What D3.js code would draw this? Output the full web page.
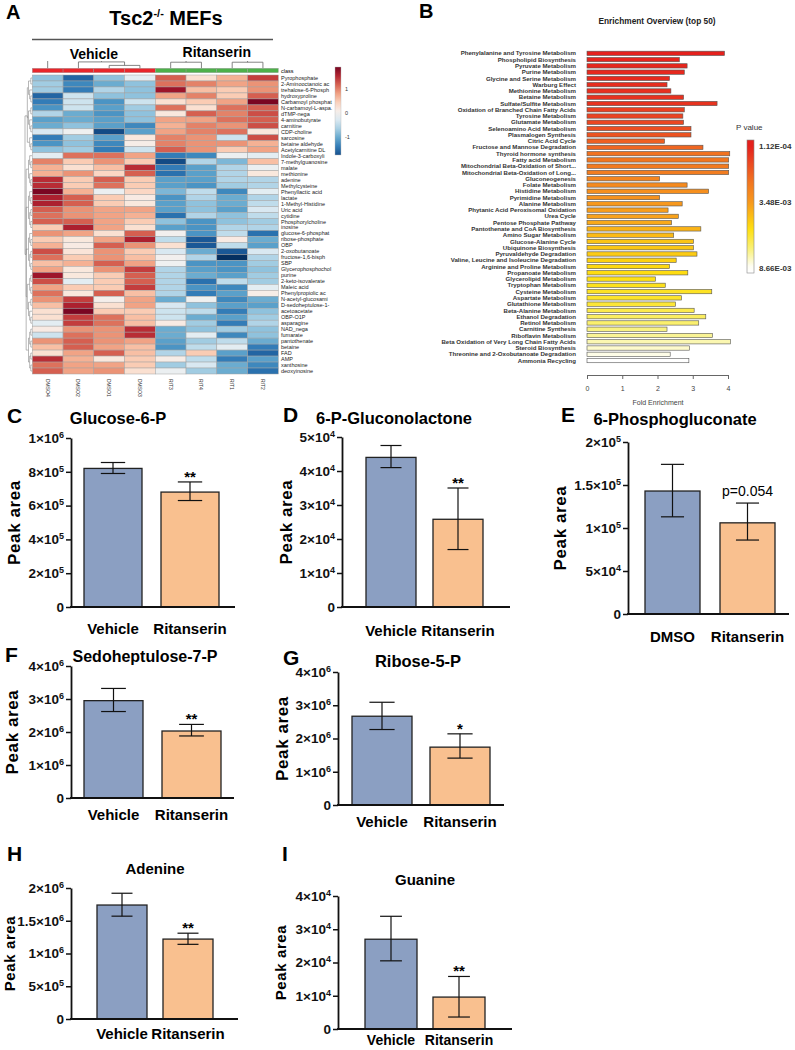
<!DOCTYPE html>
<html>
<head>
<meta charset="utf-8">
<script src="https://cdn.jsdelivr.net/npm/d3@7"></script>
<style>
  body { margin: 0; background: #fff; }
  svg { display: block; font-family: "Liberation Sans", Arial, sans-serif; }
</style>
</head>
<body>
<svg id="fig" width="795" height="1050"></svg>
<script>
// ---------- panel A data ----------
const samples = ["DMSO4", "DMSO2", "DMSO1", "DMSO3", "RIT3", "RIT4", "RIT1", "RIT2"];
const sampleGroup = ["Vehicle", "Vehicle", "Vehicle", "Vehicle", "Ritanserin", "Ritanserin", "Ritanserin", "Ritanserin"];
const metabolites = ["Pyrophosphate", "2-Aminooctanoic ac", "trehalose-6-Phosph", "hydroxyproline", "Carbamoyl phosphat",
  "N-carbamoyl-L-aspa.", "dTMP-nega", "4-aminobutyrate", "carnitine", "CDP-choline", "sarcosine", "betaine aldehyde",
  "Acetylcarnitine DL", "Indole-3-carboxyli", "7-methylguanosine", "malate", "methionine", "adenine", "Methylcysteine",
  "Phenyllactic acid", "lactate", "1-Methyl-Histidine", "Uric acid", "cytidine", "Phosphorylcholine", "inosine",
  "glucose-6-phosphat", "ribose-phosphate", "OBP", "2-oxobutanoate", "fructose-1,6-bisph", "SBP", "Glycerophosphochol",
  "purine", "2-keto-isovalerate", "Maleic acid", "Phenylpropiolic ac", "N-acetyl-glucosami", "D-sedoheptulose-1-",
  "acetoacetate", "OBP-O1P", "asparagine", "NAD_nega", "fumarate", "pantothenate", "betaine", "FAD", "AMP",
  "xanthosine", "deoxyinosine"];
const zScores = [
  [-0.8, -1.6, -0.8, -0.2, 1.2, 0.3, 0.7, 1.4],
  [-0.7, -1.3, -1.0, -0.8, 1.1, 1.0, 0.8, 0.9],
  [-0.7, -1.4, -0.6, -0.8, 1.7, 0.6, 0.5, 0.9],
  [-1.6, -0.4, -0.8, -0.8, 0.8, 1.0, 0.5, 1.2],
  [-1.4, -0.4, -1.2, -0.4, 0.3, 0.5, 0.8, 1.9],
  [-1.2, -0.4, -1.1, -0.7, 1.1, 0.3, 1.1, 1.2],
  [-0.6, -1.0, -1.2, -0.8, 0.2, 1.2, 1.0, 1.3],
  [-1.1, -1.0, -1.1, -0.8, 0.8, 0.8, 1.1, 1.2],
  [-1.0, -0.8, -1.1, -1.3, 0.7, 1.0, 0.9, 1.3],
  [-0.3, -0.05, -1.8, -1.1, 0.8, 1.0, 1.1, 0.2],
  [-1.4, -0.7, -1.1, 0.2, 1.0, 0.9, -0.4, 1.3],
  [-1.2, -0.8, -1.3, 0.1, 1.0, 0.9, 0.9, 0.7],
  [-0.8, -0.7, -1.4, -0.4, 1.2, 0.9, 0.5, 0.8],
  [-0.2, 1.1, 1.1, 0.8, -1.4, -1.3, -0.1, -0.2],
  [1.0, 0.5, 0.9, 0.5, -1.8, -0.6, -0.9, 0.6],
  [0.7, 0.3, 0.6, 1.5, -1.4, -1.1, -0.6, -0.1],
  [0.7, 0.9, 0.4, 1.2, -1.5, -1.1, -0.6, 0.2],
  [1.5, 0.5, 1.2, 0.5, -1.1, -1.1, -0.6, -0.6],
  [1.5, 0.5, 1.1, 0.5, -1.1, -1.2, -0.7, -0.6],
  [1.9, 0.7, -0.1, 0.4, -0.9, -0.5, -1.3, -0.2],
  [1.6, 1.2, 0.5, 0.15, -1.2, -0.6, -1.0, -0.6],
  [1.6, 1.2, 0.5, 0.2, -1.1, -0.8, -1.0, -0.5],
  [1.2, 0.9, 0.8, 0.8, -1.1, -0.8, -1.1, -0.3],
  [1.1, 0.9, 0.8, 0.7, -1.5, -0.6, -0.8, -0.5],
  [1.2, 1.2, 0.8, 0.5, -0.8, -1.2, -0.8, -0.7],
  [0.5, 1.6, 0.8, 0.3, -1.1, -1.2, -0.6, -0.6],
  [0.9, 0.8, 0.3, 1.2, 0.0, -1.2, -0.5, -1.5],
  [0.5, 0.2, 0.8, 1.6, -0.5, -1.7, 0.15, -1.0],
  [0.7, 0.15, 1.2, 0.9, 0.3, -1.7, -0.5, -1.1],
  [1.3, 0.25, 0.9, 0.5, -0.3, -1.0, -1.7, -0.3],
  [1.1, 0.5, 0.9, 0.6, 0.0, -0.6, -2.0, -0.6],
  [0.6, 0.7, 1.2, 0.8, -0.05, -1.2, -1.2, -0.7],
  [0.8, 0.2, 0.9, 1.4, -0.6, -1.1, -1.2, -0.8],
  [1.7, 0.2, 0.5, 1.2, -0.6, -1.0, -1.1, -0.7],
  [1.3, -0.2, 0.5, 1.2, -0.6, -1.5, -0.5, -0.7],
  [0.8, 0.5, 0.5, 1.4, -0.6, -1.2, -1.3, -0.2],
  [1.1, 0.2, 1.2, 0.6, -0.6, -1.4, -1.1, 0.1],
  [0.9, 1.4, 0.05, 0.8, -1.0, -0.05, -1.3, -1.0],
  [0.6, 1.6, 0.3, 0.8, -0.3, -0.8, -1.1, -1.1],
  [0.3, 1.9, 0.5, 0.5, -0.4, -0.5, -1.4, -0.8],
  [0.3, 1.4, 1.1, 0.6, -0.4, -1.0, -1.1, -0.7],
  [-0.2, 1.4, 1.1, 0.6, 0.15, -0.7, -1.4, -0.6],
  [0.15, 0.9, 0.9, 1.5, -1.0, -0.8, -0.7, -0.8],
  [-0.4, 1.1, 0.9, 1.5, -1.0, -0.2, -1.3, -0.8],
  [0.9, 1.2, 0.9, 0.8, -1.1, -0.7, -0.5, -1.0],
  [0.6, 1.2, 0.8, 0.6, -1.2, -0.5, -0.2, -1.4],
  [0.3, 0.8, 1.2, 0.6, -0.6, 0.5, -1.1, -1.6],
  [1.5, 0.7, 0.2, 0.5, 0.1, -0.5, -1.4, -1.1],
  [1.1, 0.8, 0.8, 0.5, -0.7, -0.3, -1.0, -1.3],
  [1.2, 0.8, 0.9, 0.3, -0.1, -0.7, -1.0, -1.5]
];
const colTree = [["DMSO4", ["DMSO2", ["DMSO1", "DMSO3", 1.0], 2.2], 4.5], [["RIT3", "RIT4", 2.1], ["RIT1", "RIT2", 2.1], 3.5], 6];
const rowTree = [[[[0, 1], [2, [3, 4]]], [[5, 6], [7, [8, 9]]], [10, [11, 12]]],
  [[[13, [14, 15]], [16, [17, 18]]], [[19, [20, 21]], [[22, 23], [24, 25]]], [[26, [27, 28]], [[29, 30], [31, 32]]],
   [[[33, 34], [35, 36]], [[37, 38], [39, [40, 41]]]], [[[42, 43], [44, 45]], [[46, 47], [48, 49]]]]];
const scaleTicks = [-1, 0, 1];

// ---------- panel B data ----------
const pathways = ["Phenylalanine and Tyrosine Metabolism", "Phospholipid Biosynthesis", "Pyruvate Metabolism",
  "Purine Metabolism", "Glycine and Serine Metabolism", "Warburg Effect", "Methionine Metabolism", "Betaine Metabolism",
  "Sulfate/Sulfite Metabolism", "Oxidation of Branched Chain Fatty Acids", "Tyrosine Metabolism", "Glutamate Metabolism",
  "Selenoamino Acid Metabolism", "Plasmalogen Synthesis", "Citric Acid Cycle", "Fructose and Mannose Degradation",
  "Thyroid hormone synthesis", "Fatty acid Metabolism", "Mitochondrial Beta-Oxidation of Short...",
  "Mitochondrial Beta-Oxidation of Long...", "Gluconeogenesis", "Folate Metabolism", "Histidine Metabolism",
  "Pyrimidine Metabolism", "Alanine Metabolism", "Phytanic Acid Peroxisomal Oxidation", "Urea Cycle",
  "Pentose Phosphate Pathway", "Pantothenate and CoA Biosynthesis", "Amino Sugar Metabolism", "Glucose-Alanine Cycle",
  "Ubiquinone Biosynthesis", "Pyruvaldehyde Degradation", "Valine, Leucine and Isoleucine Degradation",
  "Arginine and Proline Metabolism", "Propanoate Metabolism", "Glycerolipid Metabolism", "Tryptophan Metabolism",
  "Cysteine Metabolism", "Aspartate Metabolism", "Glutathione Metabolism", "Beta-Alanine Metabolism",
  "Ethanol Degradation", "Retinol Metabolism", "Carnitine Synthesis", "Riboflavin Metabolism",
  "Beta Oxidation of Very Long Chain Fatty Acids", "Steroid Biosynthesis", "Threonine and 2-Oxobutanoate Degradation",
  "Ammonia Recycling"];
const foldEnrichment = [3.90, 2.62, 2.84, 2.76, 2.34, 2.27, 2.38, 2.74, 3.69, 2.76, 2.72, 2.74, 2.95, 2.95, 2.20, 3.29,
  4.05, 4.02, 4.02, 4.02, 2.06, 2.84, 3.45, 2.06, 2.70, 2.30, 2.59, 2.40, 3.23, 2.46, 3.02, 3.02, 3.12, 2.53, 2.34,
  2.86, 1.94, 2.22, 3.54, 2.68, 2.51, 3.04, 3.37, 3.17, 2.27, 3.56, 4.07, 2.91, 2.36, 2.89];
const pValues = [1.12e-4, 2.5e-4, 3.0e-4, 3.5e-4, 4.0e-4, 4.5e-4, 5.0e-4, 5.5e-4, 6.0e-4, 9.5e-4, 1.0e-3, 1.1e-3,
  1.3e-3, 1.4e-3, 1.7e-3, 1.9e-3, 2.2e-3, 2.3e-3, 2.4e-3, 2.5e-3, 2.8e-3, 3.0e-3, 3.2e-3, 3.3e-3, 3.5e-3, 3.7e-3,
  3.8e-3, 4.0e-3, 4.3e-3, 4.5e-3, 4.8e-3, 4.9e-3, 5.0e-3, 5.2e-3, 5.4e-3, 5.5e-3, 5.7e-3, 5.8e-3, 5.9e-3, 6.0e-3,
  6.2e-3, 6.5e-3, 6.8e-3, 7.0e-3, 7.3e-3, 7.5e-3, 7.8e-3, 8.1e-3, 8.4e-3, 8.66e-3];
const pLegendTicks = [1.12e-4, 3.48e-3, 8.66e-3];
const pLegendLabels = ["1.12E-04", "3.48E-03", "8.66E-03"];
const foldTicks = [0, 1, 2, 3, 4];

// ---------- panels C-I data ----------
const panelLetters = ["C", "D", "E", "F", "G", "H", "I"];
const panelTitles = ["Glucose-6-P", "6-P-Gluconolactone", "6-Phosphogluconate", "Sedoheptulose-7-P", "Ribose-5-P", "Adenine", "Guanine"];
const groupNames = [["Vehicle", "Ritanserin"], ["Vehicle", "Ritanserin"], ["DMSO", "Ritanserin"], ["Vehicle", "Ritanserin"],
  ["Vehicle", "Ritanserin"], ["Vehicle", "Ritanserin"], ["Vehicle", "Ritanserin"]];
const vehicleMean = [8.2e5, 4.40e4, 1.43e5, 2.95e6, 2.67e6, 1.74e6, 2.70e4];
const vehicleLow  = [7.9e5, 4.10e4, 1.13e5, 2.62e6, 2.27e6, 1.57e6, 2.05e4];
const vehicleHigh = [8.55e5, 4.75e4, 1.74e5, 3.32e6, 3.09e6, 1.92e6, 3.39e4];
const ritMean = [6.8e5, 2.58e4, 1.06e5, 2.03e6, 1.74e6, 1.22e6, 0.96e4];
const ritLow  = [6.3e5, 1.69e4, 0.86e5, 1.88e6, 1.41e6, 1.14e6, 0.36e4];
const ritHigh = [7.4e5, 3.50e4, 1.29e5, 2.23e6, 2.14e6, 1.31e6, 1.58e4];
const sigLabels = ["**", "**", "p=0.054", "**", "*", "**", "**"];
const yTicks = [[0, 2e5, 4e5, 6e5, 8e5, 1e6], [0, 1e4, 2e4, 3e4, 4e4, 5e4], [0, 5e4, 1e5, 1.5e5, 2e5],
  [0, 1e6, 2e6, 3e6, 4e6], [0, 1e6, 2e6, 3e6, 4e6], [0, 5e5, 1e6, 1.5e6, 2e6], [0, 1e4, 2e4, 3e4, 4e4]];

// panel positions (layout only)
const panelLayout = [
  { axisX: 71, axisEnd: 235, barX: 84, bw: 58, gap: 19, y0: 607, yTop: 438, tx: 118, ty: 424, lx: 7, ly: 423, px: 20, ly2: 634, ts: 16.5, ps: 17 },
  { axisX: 342, axisEnd: 510, barX: 366, bw: 50, gap: 17, y0: 607, yTop: 437, tx: 394, ty: 424, lx: 283, ly: 422, px: 292, ly2: 636, ts: 16.5, ps: 17 },
  { axisX: 628, axisEnd: 789, barX: 645, bw: 55, gap: 20, y0: 614, yTop: 442, tx: 675, ty: 425, lx: 561, ly: 422, px: 566, ly2: 642, ts: 16.5, ps: 17 },
  { axisX: 71, axisEnd: 234, barX: 84, bw: 59, gap: 19, y0: 798, yTop: 666, tx: 145, ty: 662, lx: 5, ly: 662, px: 18, ly2: 820, ts: 16, ps: 17 },
  { axisX: 338, axisEnd: 504, barX: 352, bw: 60, gap: 18, y0: 805, yTop: 672, tx: 418, ty: 667, lx: 283, ly: 665, px: 288, ly2: 827, ts: 16.5, ps: 17 },
  { axisX: 71, axisEnd: 238, barX: 97, bw: 50, gap: 16, y0: 1019, yTop: 888, tx: 155, ty: 874, lx: 7, ly: 861, px: 15, ly2: 1039, ts: 15, ps: 15 },
  { axisX: 338, axisEnd: 512, barX: 365, bw: 52, gap: 16, y0: 1029, yTop: 896, tx: 425, ty: 885, lx: 282, ly: 861, px: 286, ly2: 1045, ts: 15, ps: 15 }
];

const svg = d3.select("#fig");
const FONT = '"Liberation Sans", Arial, sans-serif';

// ================= PANEL A : heatmap =================
const A = svg.append("g");
A.append("text").attr("x", 6).attr("y", 19).text("A")
  .style("font-size", "20px").style("font-weight", "bold");

const ttl = A.append("text").attr("x", 166).attr("y", 25).attr("text-anchor", "middle")
  .style("font-size", "20px").style("font-weight", "bold");
ttl.append("tspan").text("Tsc2");
ttl.append("tspan").attr("dy", -8).style("font-size", "11px").text("-/-");
ttl.append("tspan").attr("dy", 8).text(" MEFs");

A.append("line").attr("x1", 32).attr("x2", 273).attr("y1", 39.5).attr("y2", 39.5)
  .attr("stroke", "#555").attr("stroke-width", 1.5);

const hx = d3.scaleBand().domain(samples).range([32.3, 278.3]);
const hy = d3.scaleBand().domain(metabolites).range([75, 374]);
const heatColor = d3.scaleSequential(t => d3.interpolateRdBu(1 - t)).domain([-2, 2]);

// group labels above clusters
const groupCenters = d3.rollups(samples.map((s, i) => ({ s, g: sampleGroup[i] })),
  v => d3.mean(v, d => hx(d.s) + hx.bandwidth() / 2), d => d.g);
groupCenters.forEach(([g, cx]) => {
  A.append("text").attr("x", cx).attr("y", g === "Vehicle" ? 59 : 57).attr("text-anchor", "middle")
    .text(g).style("font-size", "14px").style("font-weight", "bold");
});

// top dendrogram (clipped like the original)
A.append("clipPath").attr("id", "topclip").append("rect").attr("x", 20).attr("y", 61).attr("width", 270).attr("height", 8);
const hScale = d3.scaleLinear().domain([0, 1]).range([68.3, 65.4]);
const dg = A.append("g").attr("clip-path", "url(#topclip)");
function layoutCol(node) {
  if (typeof node === "string") return { x: hx(node) + hx.bandwidth() / 2, y: hScale(0) };
  const a = layoutCol(node[0]), b = layoutCol(node[1]);
  const y = hScale(node[2]);
  dg.append("path").attr("d", `M${a.x},${a.y}V${y}H${b.x}V${b.y}`)
    .attr("fill", "none").attr("stroke", "#666").attr("stroke-width", 0.8);
  return { x: (a.x + b.x) / 2, y };
}
layoutCol(colTree);

// left dendrogram
const rootRow = d3.hierarchy(rowTree, d => Array.isArray(d) ? d : null);
d3.cluster().size([1, 1])(rootRow);
const rdX = d3.scaleLinear().domain([0, 1]).range([25, 32]);
rootRow.each(n => { if (!n.children) n.py = hy(metabolites[n.data]) + hy.bandwidth() / 2; });
rootRow.eachAfter(n => { if (n.children) n.py = d3.mean(n.children, c => c.py); });
rootRow.links().forEach(l => {
  A.append("path").attr("d", `M${rdX(l.source.y)},${l.source.py}V${l.target.py}H${rdX(l.target.y)}`)
    .attr("fill", "none").attr("stroke", "#888").attr("stroke-width", 0.6);
});

// class bar
A.selectAll("rect.cls").data(samples).join("rect")
  .attr("x", d => hx(d)).attr("y", 68.3).attr("width", hx.bandwidth()).attr("height", 4.4)
  .attr("fill", (d, i) => sampleGroup[i] === "Vehicle" ? "#e8262b" : "#4db04a")
  .attr("stroke", "#999").attr("stroke-width", 0.4);
A.append("text").attr("x", 281).attr("y", 72.5).text("class").style("font-size", "5.5px");

// cells
metabolites.forEach((m, r) => {
  A.selectAll(null).data(zScores[r]).join("rect")
    .attr("x", (d, c) => hx(samples[c])).attr("y", hy(m))
    .attr("width", hx.bandwidth()).attr("height", hy.bandwidth())
    .attr("fill", d => heatColor(d)).attr("stroke", "#a3a3a3").attr("stroke-width", 0.5);
});
A.selectAll("text.rl").data(metabolites).join("text")
  .attr("x", 281).attr("y", d => hy(d) + hy.bandwidth() / 2 + 2)
  .text(d => d).style("font-size", "5.5px").attr("fill", "#222");
A.selectAll("text.cl").data(samples).join("text")
  .attr("transform", d => `translate(${hx(d) + hx.bandwidth() / 2 - 2},379) rotate(90)`)
  .text(d => d).style("font-size", "5px").attr("fill", "#333");

// color key
const keyY = d3.scaleLinear().domain([-1.75, 1.92]).range([155, 67]);
const kg = svg.append("defs").append("linearGradient").attr("id", "heatkey")
  .attr("x1", 0).attr("x2", 0).attr("y1", 1).attr("y2", 0);
d3.range(0, 1.0001, 0.1).forEach(t => {
  kg.append("stop").attr("offset", t).attr("stop-color", heatColor(-1.75 + t * 3.67));
});
A.append("rect").attr("x", 335).attr("y", 67).attr("width", 6).attr("height", 88)
  .attr("fill", "url(#heatkey)").attr("stroke", "#bbb").attr("stroke-width", 0.4);
A.selectAll("text.kt").data(scaleTicks).join("text")
  .attr("x", 345).attr("y", d => keyY(d) + 2).text(d => d).style("font-size", "5.5px").attr("fill", "#333");

// ================= PANEL B : enrichment =================
const B = svg.append("g");
B.append("text").attr("x", 419).attr("y", 18).text("B").style("font-size", "20px").style("font-weight", "bold");
B.append("text").attr("x", 657).attr("y", 24).attr("text-anchor", "middle")
  .text("Enrichment Overview (top 50)").style("font-size", "8.3px").style("font-weight", "bold").attr("fill", "#222");

const fx = d3.scaleLinear().domain([0, 4]).range([587, 728]);
const fy = d3.scaleBand().domain(pathways).range([50.2, 363.7]).paddingInner(0.31).paddingOuter(0.155);
const pColor = d3.scaleLinear()
  .domain([1.12e-4, 1.0e-3, 2.4e-3, 3.48e-3, 4.6e-3, 5.6e-3, 7.2e-3, 8.66e-3])
  .range(["#e4201c", "#ea4322", "#f27a20", "#f7971d", "#fbbd16", "#fedf10", "#f9f17a", "#ffffff"]);

B.selectAll("rect.eb").data(pathways).join("rect")
  .attr("x", fx(0)).attr("y", d => fy(d))
  .attr("width", (d, i) => fx(foldEnrichment[i]) - fx(0)).attr("height", fy.bandwidth())
  .attr("fill", (d, i) => pColor(pValues[i])).attr("stroke", "#555").attr("stroke-width", 0.6);
B.selectAll("text.pl").data(pathways).join("text")
  .attr("x", 576).attr("y", d => fy(d) + fy.bandwidth() / 2 + 2.1).attr("text-anchor", "end")
  .text(d => d).style("font-size", "6.1px").style("font-weight", "bold").attr("fill", "#333");

const fax = B.append("g").attr("transform", "translate(0,375)")
  .call(d3.axisBottom(fx).tickValues(foldTicks).tickSize(4).tickPadding(7).tickFormat(d3.format("d")));
fax.attr("font-family", FONT).attr("font-size", 7);
fax.selectAll("path,line").attr("stroke", "#666");
fax.selectAll("text").attr("fill", "#444");
B.append("text").attr("x", 658).attr("y", 405).attr("text-anchor", "middle")
  .text("Fold Enrichment").style("font-size", "7px").attr("fill", "#444");

// p value legend
const ly = d3.scaleLinear().domain(pLegendTicks).range([146, 202, 268]);
const pg = svg.select("defs").append("linearGradient").attr("id", "pkey")
  .attr("x1", 0).attr("x2", 0).attr("y1", 0).attr("y2", 1);
d3.range(140, 273.1, 6).forEach(yy => {
  const p = Math.max(1.12e-4, Math.min(8.66e-3, ly.invert(yy)));
  pg.append("stop").attr("offset", (yy - 140) / 133).attr("stop-color", pColor(p));
});
B.append("text").attr("x", 736).attr("y", 130).text("P value").style("font-size", "8px").attr("fill", "#333");
B.append("rect").attr("x", 747).attr("y", 140).attr("width", 7).attr("height", 133)
  .attr("fill", "url(#pkey)").attr("stroke", "#888").attr("stroke-width", 0.6);
B.selectAll("text.pk").data(pLegendTicks).join("text")
  .attr("x", 759).attr("y", d => ly(d) + 3).text((d, i) => pLegendLabels[i])
  .style("font-size", "8px").style("font-weight", "bold").attr("fill", "#333");

// ================= PANELS C-I : bar charts =================
function sciParts(v) {
  if (v === 0) return null;
  const e = Math.floor(Math.log10(v) + 1e-9);
  const m = +(v / Math.pow(10, e)).toFixed(2);
  return [m + "×10", e];
}

panelLetters.forEach((letter, i) => {
  const L = panelLayout[i];
  const g = svg.append("g");
  const ticks = yTicks[i];
  const y = d3.scaleLinear().domain([0, d3.max(ticks)]).range([L.y0, L.yTop]);
  const step = L.bw + L.gap;
  const x = d3.scaleBand().domain(groupNames[i])
    .range([L.barX - L.gap / 2, L.barX - L.gap / 2 + 2 * step])
    .paddingInner(L.gap / step).paddingOuter(L.gap / step / 2);

  g.append("text").attr("x", L.lx).attr("y", L.ly).text(letter)
    .style("font-size", "21px").style("font-weight", "bold");
  g.append("text").attr("x", L.tx).attr("y", L.ty).attr("text-anchor", "middle").text(panelTitles[i])
    .style("font-size", L.ts + "px").style("font-weight", "bold");
  g.append("text").attr("transform", `translate(${L.px},${(L.y0 + L.yTop) / 2}) rotate(-90)`)
    .attr("text-anchor", "middle").text("Peak area")
    .style("font-size", L.ps + "px").style("font-weight", "bold").style("letter-spacing", "0.6px");

  const stats = [
    { name: groupNames[i][0], mean: vehicleMean[i], lo: vehicleLow[i], hi: vehicleHigh[i], fill: "#8b9fc2" },
    { name: groupNames[i][1], mean: ritMean[i], lo: ritLow[i], hi: ritHigh[i], fill: "#f9c08f" }
  ];

  g.selectAll("rect.bar").data(stats).join("rect")
    .attr("x", d => x(d.name)).attr("y", d => y(d.mean))
    .attr("width", x.bandwidth()).attr("height", d => y(0) - y(d.mean))
    .attr("fill", d => d.fill).attr("stroke", "#222").attr("stroke-width", 1.3);

  const capW = x.bandwidth() * 0.42;
  stats.forEach(d => {
    const cx = x(d.name) + x.bandwidth() / 2;
    g.append("line").attr("x1", cx).attr("x2", cx).attr("y1", y(d.lo)).attr("y2", y(d.hi))
      .attr("stroke", "#111").attr("stroke-width", 1.2);
    [d.lo, d.hi].forEach(v => {
      g.append("line").attr("x1", cx - capW / 2).attr("x2", cx + capW / 2).attr("y1", y(v)).attr("y2", y(v))
        .attr("stroke", "#111").attr("stroke-width", 1.2);
    });
  });

  const sig = sigLabels[i];
  const isP = sig.startsWith("p");
  g.append("text").attr("x", x(stats[1].name) + x.bandwidth() / 2)
    .attr("y", y(stats[1].hi) + (isP ? -7 : 0)).attr("text-anchor", "middle").text(sig)
    .style("font-size", isP ? "14px" : "15px").style("font-weight", isP ? "normal" : "bold");

  // y axis
  const ax = g.append("g").attr("transform", `translate(${L.axisX},0)`)
    .call(d3.axisLeft(y).tickValues(ticks).tickSize(5).tickSizeOuter(0).tickPadding(2));
  ax.attr("font-family", FONT).attr("font-size", 13.5).attr("font-weight", "bold");
  ax.select(".domain").attr("stroke", "#111").attr("stroke-width", 1.8);
  ax.selectAll(".tick line").attr("stroke", "#111").attr("stroke-width", 1.5);
  ax.selectAll(".tick text").attr("fill", "#111").each(function (d) {
    const p = sciParts(d);
    if (!p) return;
    const t = d3.select(this).text(null);
    t.append("tspan").text(p[0]);
    t.append("tspan").attr("dy", "-0.55em").style("font-size", "9px").text(p[1]);
  });

  // x axis line
  g.append("path").attr("d", d3.line()([[L.axisX - 1, y(0)], [L.axisEnd, y(0)]]))
    .attr("stroke", "#111").attr("stroke-width", 2);

  g.selectAll("text.gl").data(stats).join("text")
    .attr("x", d => x(d.name) + x.bandwidth() / 2).attr("y", L.ly2).attr("text-anchor", "middle")
    .text(d => d.name).style("font-size", i === 6 ? "14px" : "15px").style("font-weight", "bold");
});
</script>
</body>
</html>
